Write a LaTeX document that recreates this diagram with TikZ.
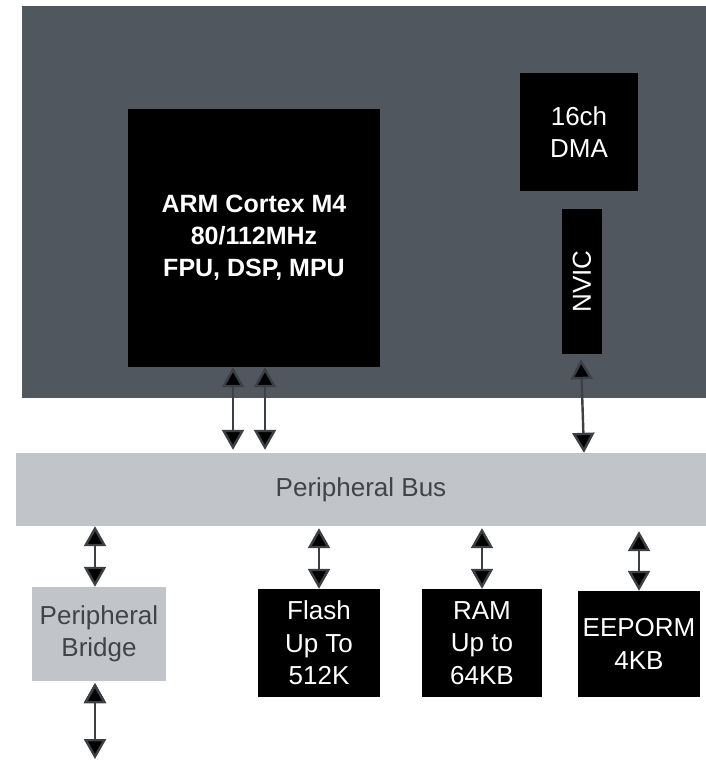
\documentclass[tikz,border=0pt]{standalone}
\usepackage{fontspec}
\setmainfont{Liberation Sans}
\usetikzlibrary{arrows.meta}
\definecolor{chipgray}{RGB}{81,87,95}
\definecolor{busgray}{RGB}{193,196,200}
\definecolor{linkgray}{RGB}{60,64,69}
\definecolor{textgray}{RGB}{64,68,73}
\tikzstyle{blk}=[rectangle, fill=black, text=white, inner sep=0pt, align=center, font=\fontsize{26}{32.5}\selectfont]
\tikzstyle{lgt}=[rectangle, fill=busgray, text=textgray, inner sep=0pt, align=center, font=\fontsize{26}{32.5}\selectfont]
\tikzstyle{link}=[line width=2.4pt, draw=linkgray, arrows={Triangle[width=22pt,length=20pt]-Triangle[width=22pt,length=20pt]}]
\newcommand{\blk}{\node[blk]}
\newcommand{\lgt}{\node[lgt]}

\begin{document}
\begin{tikzpicture}[x=1pt,y=-1pt]
	\useasboundingbox (0,0) rectangle (706,761);
	%% the chip and the bus
	\node[rectangle, fill=chipgray, inner sep=0pt, minimum width=684pt, minimum height=392pt] (chip) at (364,202) {};
	\lgt[minimum width=690pt, minimum height=73pt] (bus) at (361,489.5) {Peripheral Bus};
	%% inside the chip
	\blk[minimum width=252pt, minimum height=258pt, font=\fontsize{25}{32}\selectfont\bfseries] (cpu) at (254,238) {ARM Cortex M4\\ 80/112MHz\\ FPU, DSP, MPU};
	\blk[minimum width=118pt, minimum height=118pt] (dma) at (579,132) {16ch\\DMA};
	\blk[minimum width=40pt, minimum height=145pt] (nvic) at (582,281.5) {\rotatebox{90}{NVIC}};
	%% below the bus
	\lgt[minimum width=134pt, minimum height=94pt] (bridge) at (99,634) {Peripheral\\Bridge};
	\blk[minimum width=122pt, minimum height=108pt] (flash) at (319,643) {Flash\\Up To\\512K};
	\blk[minimum width=120pt, minimum height=108pt] (ram) at (482,643) {RAM\\Up to\\64KB};
	\blk[minimum width=122pt, minimum height=106pt] (eeprom) at (639,644) {EEPORM\\4KB};
	\coordinate (out) at (95,759);
	%% for the links
	\path[link]
		([xshift=-21pt]cpu.south) edge ([xshift=-21pt,yshift=3pt]cpu.south |- bus.north)
		([xshift=11pt]cpu.south) edge ([xshift=11pt,yshift=3pt]cpu.south |- bus.north)
		([xshift=-1pt,yshift=-5pt]nvic.south) edge ([xshift=2pt]nvic.south |- bus.north)
		([xshift=-4pt]bridge.north |- bus.south) edge ([xshift=-4pt]bridge.north)
		([yshift=-2pt]flash.north |- bus.south) edge (flash.north)
		([yshift=-2pt]ram.north |- bus.south) edge (ram.north)
		([yshift=-5pt]eeprom.north |- bus.south) edge (eeprom.north)
		([xshift=-4pt,yshift=-2pt]bridge.south) edge (out)
		;
\end{tikzpicture}
\end{document}
